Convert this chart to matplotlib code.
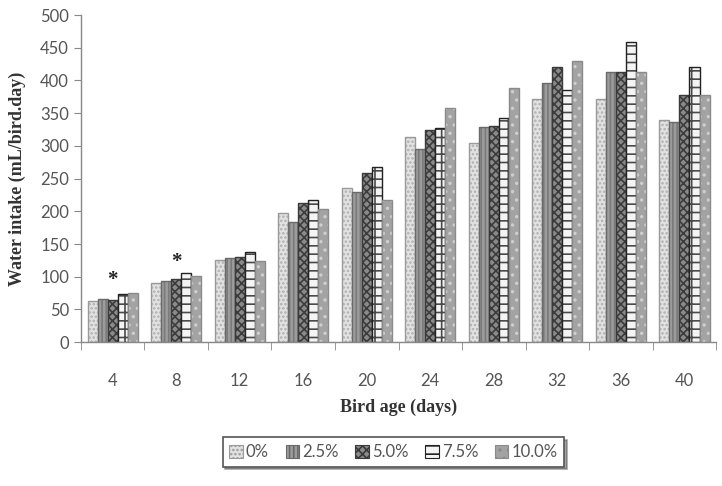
import matplotlib
matplotlib.use("Agg")
import matplotlib.pyplot as plt
import numpy as np
from matplotlib.patches import Patch

# bird age categories (days)
ages = ["4", "8", "12", "16", "20", "24", "28", "32", "36", "40"]
series_names = ["0%", "2.5%", "5.0%", "7.5%", "10.0%"]

# water intake (mL/bird.day)
intake_0 = [63, 91, 126, 197, 236, 314, 305, 371, 371, 340]
intake_25 = [66, 93, 129, 184, 229, 296, 329, 396, 413, 337]
intake_50 = [64, 97, 130, 213, 259, 324, 330, 421, 413, 378]
intake_75 = [73, 105, 138, 217, 267, 328, 343, 385, 459, 421]
intake_100 = [75, 101, 124, 203, 217, 358, 389, 430, 413, 378]

# significance marks: (category index, y value)
star_idx = [0, 1]
star_y = [95, 122]

all_series = [intake_0, intake_25, intake_50, intake_75, intake_100]

# face, hatch, hatch colour, outline colour
styles = [
    ("#e2e2e2", "....", "#b0b0b0", "#9a9a9a"),
    ("#9c9c9c", "||||", "#7a7a7a", "#6a6a6a"),
    ("#8a8a8a", "xxxx", "#3c3c3c", "#3a3a3a"),
    ("#f4f4f4", "-+", "#4a4a4a", "#222222"),
    ("#a3a3a3", "..", "#cfcfcf", "#8a8a8a"),
]

plt.rcParams["hatch.linewidth"] = 1.2

fig = plt.figure(figsize=(7.22, 4.86), dpi=100)
ax = fig.add_axes([0.112, 0.296, 0.880, 0.673])

x = np.arange(len(ages))
n = len(all_series)
bar_w = 0.79 / n

handles = []
for i, (vals, (face, hatch, hcol, ecol)) in enumerate(zip(all_series, styles)):
    pos = x - 0.79 / 2 + bar_w * (i + 0.5)
    ax.bar(pos, vals, bar_w, color=face, hatch=hatch, edgecolor=hcol, linewidth=0)
    ax.bar(pos, vals, bar_w, fill=False, edgecolor=ecol, linewidth=1.0)
    handles.append(Patch(facecolor=face, hatch=hatch, edgecolor=ecol, linewidth=0.8))

for idx, yv in zip(star_idx, star_y):
    ax.text(x[idx], yv, "*", ha="center", va="center", fontsize=15,
            family="Liberation Serif", fontweight="bold", color="#222222")

ax.set_xlim(-0.5, len(ages) - 0.5)
ax.set_ylim(0, 500)
ax.set_yticks(np.arange(0, 501, 50))
ax.set_xticks(x)
ax.set_xticklabels(ages)
ax.set_xticks(np.arange(-0.5, len(ages), 1.0), minor=True)
ax.tick_params(axis="x", which="major", length=0, pad=22)
ax.tick_params(axis="x", which="minor", length=6, color="#888888", direction="out")
ax.tick_params(axis="y", length=5, color="#888888", direction="out")
for lab in ax.get_xticklabels() + ax.get_yticklabels():
    lab.set_family("Lato")
    lab.set_fontsize(12)
    lab.set_color("#555555")

for side in ["top", "right"]:
    ax.spines[side].set_visible(False)
for side in ["left", "bottom"]:
    ax.spines[side].set_color("#888888")
    ax.spines[side].set_linewidth(1.0)

ax.set_xlabel("Bird age (days)", family="Liberation Serif", fontweight="bold",
              fontsize=13, color="#333333", labelpad=7)
ax.set_ylabel("Water intake (mL/bird.day)", family="Liberation Serif", fontweight="bold",
              fontsize=13, color="#333333", labelpad=10)

leg = fig.legend(handles, series_names, loc="center", bbox_to_anchor=(0.545, 0.07),
                 ncol=5, frameon=True, fancybox=False, shadow=True,
                 handlelength=0.8, handleheight=0.8, handletextpad=0.2,
                 columnspacing=1.0, borderpad=0.4,
                 prop={"family": "Lato", "size": 12})
leg.get_frame().set_edgecolor("#555555")
leg.get_frame().set_linewidth(1.2)
for t in leg.get_texts():
    t.set_color("#555555")

fig.savefig("out.png", dpi=100)
